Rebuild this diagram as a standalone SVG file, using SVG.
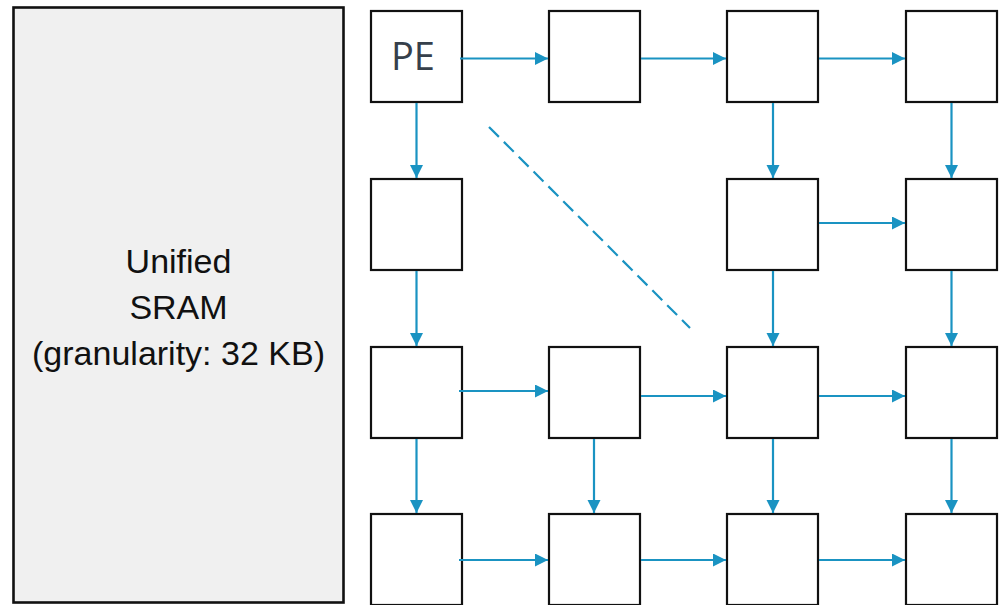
<svg xmlns="http://www.w3.org/2000/svg" width="999" height="605" viewBox="0 0 999 605">
<style>
.pe{fill:#ffffff;stroke:#111111;stroke-width:2.2}
.sram{fill:#f0f0f0;stroke:#111111;stroke-width:2.6}
.c{stroke:#1a93c2;stroke-width:2.2;fill:none}
.lbl{font-family:"Liberation Sans",Arial,sans-serif;font-size:34px;fill:#111111;text-anchor:middle}
.pet{font-family:"Open Sans","Liberation Sans",sans-serif;font-size:38px;fill:#36404b;text-anchor:middle}
</style>
<defs>
<marker id="ah" markerUnits="userSpaceOnUse" markerWidth="14" markerHeight="14" refX="13" refY="6.5" orient="auto">
<path d="M0,0 L13,6.5 L0,13 z" fill="#1a93c2"/>
</marker>
</defs>
<rect width="999" height="605" fill="#ffffff"/>
<g id="sram">
<rect class="sram" x="13.5" y="7.5" width="330" height="595"/>
<text class="lbl" x="178.5" y="273">Unified</text>
<text class="lbl" x="178.5" y="319">SRAM</text>
<text class="lbl" x="178.5" y="365">(granularity: 32 KB)</text>
</g>
<g id="pe11"><rect class="pe" x="371" y="11" width="91" height="91"/><text class="pet" x="413" y="70">PE</text></g>
<g id="pe12"><rect class="pe" x="549" y="11" width="91" height="91"/></g>
<g id="pe13"><rect class="pe" x="727" y="11" width="91" height="91"/></g>
<g id="pe14"><rect class="pe" x="906" y="11" width="91" height="91"/></g>
<g id="pe21"><rect class="pe" x="371" y="179" width="91" height="91"/></g>
<g id="pe23"><rect class="pe" x="727" y="179" width="91" height="91"/></g>
<g id="pe24"><rect class="pe" x="906" y="179" width="91" height="91"/></g>
<g id="pe31"><rect class="pe" x="371" y="347" width="91" height="91"/></g>
<g id="pe32"><rect class="pe" x="549" y="347" width="91" height="91"/></g>
<g id="pe33"><rect class="pe" x="727" y="347" width="91" height="91"/></g>
<g id="pe34"><rect class="pe" x="906" y="347" width="91" height="91"/></g>
<g id="pe41"><rect class="pe" x="371" y="514" width="91" height="91"/></g>
<g id="pe42"><rect class="pe" x="549" y="514" width="91" height="91"/></g>
<g id="pe43"><rect class="pe" x="727" y="514" width="91" height="91"/></g>
<g id="pe44"><rect class="pe" x="906" y="514" width="91" height="91"/></g>
<g id="connectors">
<line class="c" x1="460" y1="58.5" x2="548" y2="58.5" marker-end="url(#ah)"/>
<line class="c" x1="641" y1="58.5" x2="726" y2="58.5" marker-end="url(#ah)"/>
<line class="c" x1="819" y1="58.5" x2="905" y2="58.5" marker-end="url(#ah)"/>
<line class="c" x1="819" y1="223" x2="905" y2="223" marker-end="url(#ah)"/>
<line class="c" x1="459" y1="391" x2="548" y2="391" marker-end="url(#ah)"/>
<line class="c" x1="641" y1="396" x2="726" y2="396" marker-end="url(#ah)"/>
<line class="c" x1="819" y1="396" x2="905" y2="396" marker-end="url(#ah)"/>
<line class="c" x1="459" y1="560" x2="548" y2="560" marker-end="url(#ah)"/>
<line class="c" x1="641" y1="560" x2="726" y2="560" marker-end="url(#ah)"/>
<line class="c" x1="819" y1="560" x2="905" y2="560" marker-end="url(#ah)"/>
<line class="c" x1="416.5" y1="103" x2="416.5" y2="178" marker-end="url(#ah)"/>
<line class="c" x1="416.5" y1="271" x2="416.5" y2="346" marker-end="url(#ah)"/>
<line class="c" x1="416.5" y1="439" x2="416.5" y2="513" marker-end="url(#ah)"/>
<line class="c" x1="594" y1="439" x2="594" y2="513" marker-end="url(#ah)"/>
<line class="c" x1="773" y1="103" x2="773" y2="178" marker-end="url(#ah)"/>
<line class="c" x1="773" y1="271" x2="773" y2="346" marker-end="url(#ah)"/>
<line class="c" x1="773" y1="439" x2="773" y2="513" marker-end="url(#ah)"/>
<line class="c" x1="951.5" y1="103" x2="951.5" y2="178" marker-end="url(#ah)"/>
<line class="c" x1="951.5" y1="271" x2="951.5" y2="346" marker-end="url(#ah)"/>
<line class="c" x1="951.5" y1="439" x2="951.5" y2="513" marker-end="url(#ah)"/>
<line class="c" x1="489" y1="127" x2="690" y2="328" stroke-dasharray="14 7"/>
</g>
</svg>
